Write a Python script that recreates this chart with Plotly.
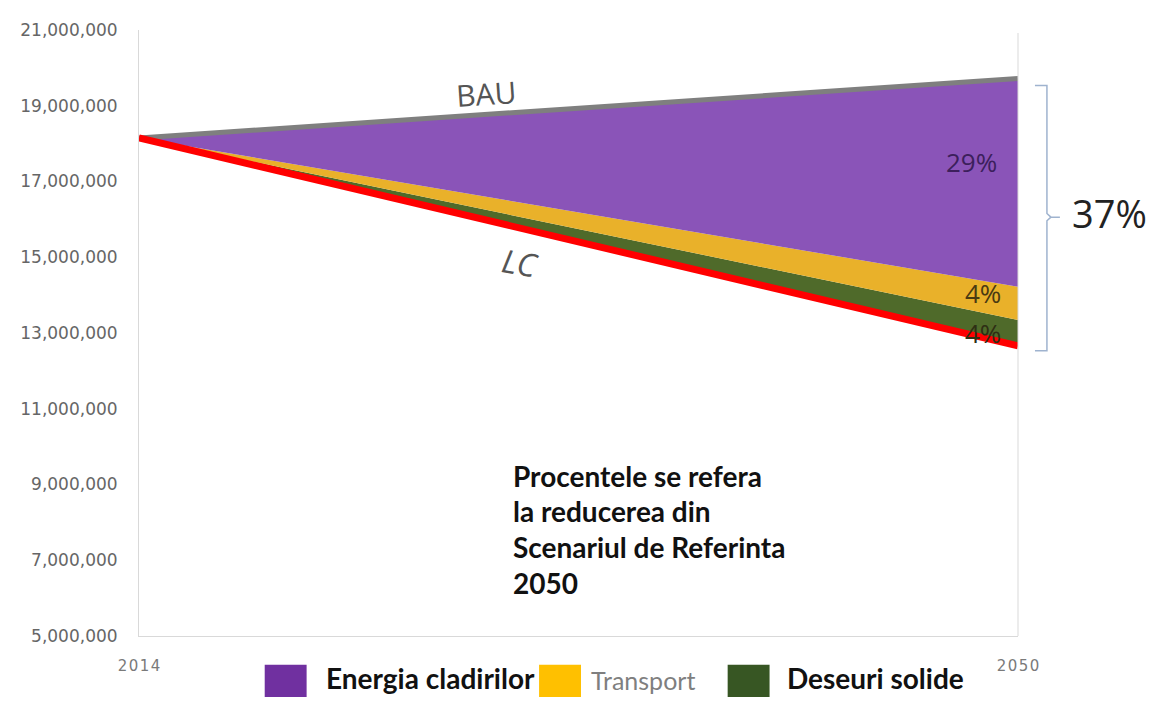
import plotly.graph_objects as go

# ---- data ----
years = [2014, 2050]
bau = [18.15e6, 19.72e6]            # Business-as-usual scenario
energia_cladirilor = [0, 5.50e6]    # reduction: buildings energy
transport = [0, 0.88e6]             # reduction: transport
deseuri_solide = [0, 0.68e6]        # reduction: solid waste
lc = [b - e - t - d for b, e, t, d in zip(bau, energia_cladirilor, transport, deseuri_solide)]

pct_labels = ["29%", "4%", "4%"]
total_label = "37%"
y_ticks = list(range(5_000_000, 21_000_001, 2_000_000))
x_ticktext = ["2\u200a0\u200a1\u200a4", "2\u200a0\u200a5\u200a0"]

# ---- layout geometry ----
OFF = 8                       # page body margin of the html page
W, H = 1157 - 2 * OFF, 705 - 2 * OFF
PL, PR, PT, PB = 137, 1018, 24, 636   # plot area in page pixels
L, R, T, B = PL - OFF, W + OFF - PR, PT - OFF, H + OFF - PB
PW, PH = PR - PL, PB - PT

def px(x):
    return (x - PL) / PW

def py(y):
    return (PB - y) / PH

C_PURPLE, C_YELLOW, C_GREEN = "#8a54b8", "#e9b12a", "#4f6a2a"
LEG_PURPLE, LEG_YELLOW, LEG_GREEN = "#7030a0", "#ffc000", "#375623"

fig = go.Figure()
fig.add_trace(go.Scatter(x=years, y=lc, stackgroup="s", mode="lines",
                         line=dict(width=0), fillcolor="rgba(0,0,0,0)",
                         hoverinfo="skip", showlegend=False))
fig.add_trace(go.Scatter(x=years, y=deseuri_solide, stackgroup="s", mode="lines",
                         line=dict(width=0, color=C_GREEN), fillcolor=C_GREEN,
                         name="Deseuri solide", showlegend=False))
fig.add_trace(go.Scatter(x=years, y=transport, stackgroup="s", mode="lines",
                         line=dict(width=0, color=C_YELLOW), fillcolor=C_YELLOW,
                         name="Transport", showlegend=False))
fig.add_trace(go.Scatter(x=years, y=energia_cladirilor, stackgroup="s", mode="lines",
                         line=dict(width=0, color=C_PURPLE), fillcolor=C_PURPLE,
                         name="Energia cladirilor", showlegend=False))
fig.add_trace(go.Scatter(x=years, y=bau, mode="lines", name="BAU",
                         line=dict(color="#7f7f7f", width=5), showlegend=False))
fig.add_trace(go.Scatter(x=years, y=lc, mode="lines", name="LC",
                         line=dict(color="#ff0000", width=7), showlegend=False))

ann = []
def add(x, y, text, size, color, family="Open Sans", xanchor="center", **kw):
    ann.append(dict(x=px(x), y=py(y), xref="paper", yref="paper", text=text,
                    showarrow=False, xanchor=xanchor, yanchor="middle",
                    font=dict(family=family, size=size, color=color), **kw))

# line labels
add(485, 88, "BAU", 30, "#555555", textangle=-4)
add(519, 259, "<i>LC</i>", 32, "#555555", textangle=10)
# percentage labels
add(971, 157, pct_labels[0], 26, "#3c1f5c")
add(983, 290, pct_labels[1], 26, "#4a3a12")
add(983, 330, pct_labels[2], 26, "#2e2e14")
add(1110, 209, total_label, 38, "#222222")
# note
note_lines = ["Procentele se refera", "la reducerea din", "Scenariul de Referinta", "2050"]
for i, t in enumerate(note_lines):
    add(510, 474 + 36 * i, f"<b>{t}</b>", 28, "#111111", family="Lato", xanchor="left")
# legend labels
add(322, 678, "<b>Energia cladirilor</b>", 28, "#111111", family="Lato", xanchor="left")
add(588, 680, "Transport", 25, "#7f7f7f", family="Lato", xanchor="left")
add(784, 678, "<b>Deseuri solide</b>", 28, "#111111", family="Lato", xanchor="left")

shapes = []
# legend squares
for x0, col in [(263, LEG_PURPLE), (538, LEG_YELLOW), (727, LEG_GREEN)]:
    shapes.append(dict(type="rect", xref="paper", yref="paper",
                       x0=px(x0), x1=px(x0 + 42), y0=py(706), y1=py(665),
                       fillcolor=col, line=dict(width=0)))
# right border of plot
shapes.append(dict(type="line", xref="paper", yref="paper", x0=1, x1=1, y0=0, y1=py(27),
                   line=dict(color="#d9d9d9", width=1)))
# curly bracket
bx, top, bot, mid = px(1047), py(80), py(348), py(213)
path = (f"M {px(1035)},{top} L {bx},{top} L {bx},{mid + 0.006} L {px(1051)},{mid} "
        f"L {px(1060)},{mid} M {px(1051)},{mid} L {bx},{mid - 0.006} L {bx},{bot} L {px(1035)},{bot}")
shapes.append(dict(type="path", xref="paper", yref="paper", path=path,
                   line=dict(color="#9fb3cf", width=1.5)))

fig.update_layout(
    width=W, height=H,
    margin=dict(l=L, r=R, t=T, b=B),
    paper_bgcolor="white", plot_bgcolor="white",
    annotations=ann, shapes=shapes,
    showlegend=False,
    xaxis=dict(range=[2014, 2050], tickvals=years, ticktext=x_ticktext,
               showgrid=False, zeroline=False, showline=True, linecolor="#d9d9d9",
               ticks="", ticklabelstandoff=16,
               tickfont=dict(family="DejaVu Sans", size=15, color="#7a7a7a")),
    yaxis=dict(range=[5e6, 21e6], tickvals=y_ticks, tickformat=",d",
               showgrid=False, zeroline=False, showline=True, linecolor="#d9d9d9",
               ticks="", ticklabelstandoff=17,
               tickfont=dict(family="DejaVu Sans", size=17, color="#666666")),
)

fig.write_html("out.html")
